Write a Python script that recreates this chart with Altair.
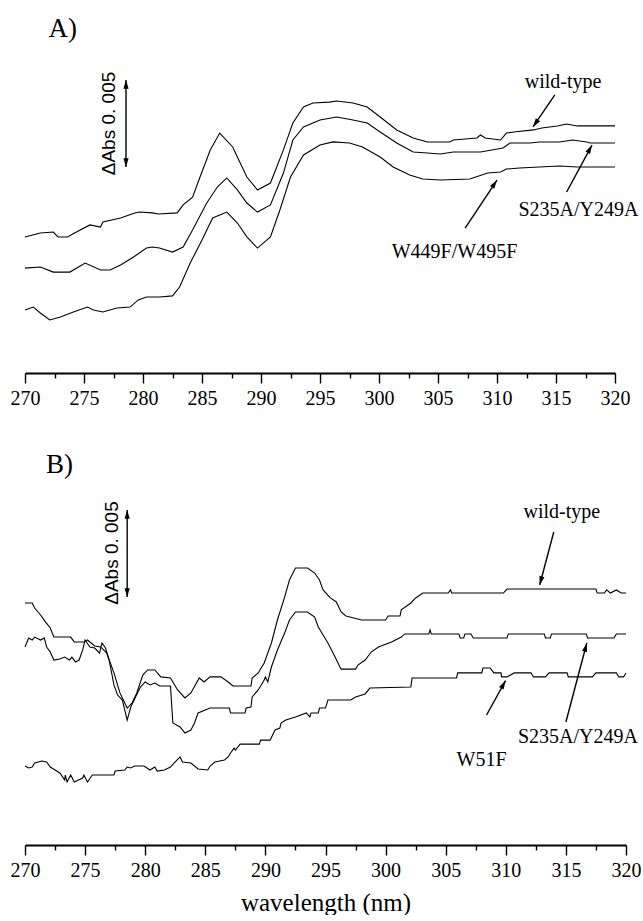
import math
import altair as alt
import pandas as pd

# ---------------- Panel A data (wavelength nm, ΔAbs in mAbs, arbitrary offsets) ----------------
a_wt_nm = [270.0, 271.3, 272.4, 272.8, 273.6, 274.2, 275.5, 276.4, 276.6, 278.1, 279.3, 279.7, 280.8, 281.3,
           282.9, 283.4, 284.2, 284.8, 285.7, 286.5, 287.6, 288.8, 289.7, 290.8, 291.9, 292.7, 293.6, 294.4,
           295.8, 296.4, 297.8, 299.0, 300.1, 301.5, 302.9, 304.1, 306.0, 306.3, 308.3, 308.6, 309.0, 310.3,
           310.8, 311.4, 313.1, 313.8, 315.1, 315.9, 316.8, 320.0]
a_wt_val = [7.82, 8.05, 8.10, 7.82, 7.82, 8.05, 8.51, 8.39, 8.68, 8.91, 9.20, 9.25, 9.20, 9.14,
            9.20, 9.66, 10.11, 11.21, 12.82, 13.79, 12.99, 11.26, 10.52, 10.92, 12.82, 14.37, 15.29, 15.52,
            15.57, 15.63, 15.52, 15.29, 14.71, 13.97, 13.51, 13.28, 13.28, 13.39, 13.51, 13.68, 13.51, 13.39,
            13.79, 13.85, 13.97, 14.08, 14.20, 14.31, 14.20, 14.20]

a_sy_nm = [270.0, 271.3, 272.4, 273.8, 275.1, 276.4, 277.2, 278.1, 279.2, 280.3, 280.8, 281.4, 282.5, 283.4,
           284.2, 285.4, 286.3, 287.1, 288.0, 288.8, 289.7, 290.8, 291.9, 292.7, 293.6, 295.0, 296.4, 297.8,
           299.0, 300.1, 301.5, 302.9, 304.1, 305.2, 306.3, 308.6, 310.5, 311.1, 312.8, 313.6, 315.3, 316.4,
           317.6, 317.9, 320.0]
a_sy_val = [6.03, 6.09, 5.80, 5.80, 6.32, 5.92, 5.92, 6.21, 6.67, 7.18, 7.24, 7.18, 6.95, 7.24,
            8.22, 9.77, 10.69, 11.21, 10.52, 9.77, 9.25, 9.66, 11.49, 13.39, 14.14, 14.54, 14.71, 14.54,
            14.37, 13.85, 13.22, 12.70, 12.64, 12.59, 12.70, 12.70, 12.93, 13.22, 13.22, 13.28, 13.28, 13.39,
            13.28, 13.22, 13.22]

a_ww_nm = [270.0, 270.7, 271.3, 272.1, 273.0, 274.1, 275.3, 275.8, 276.6, 277.8, 278.9, 279.6, 280.3, 281.4,
           282.5, 283.1, 284.0, 285.0, 285.9, 287.1, 288.0, 288.8, 289.7, 290.8, 291.6, 292.5, 293.6, 295.0,
           296.1, 297.5, 298.6, 300.1, 301.2, 302.6, 303.7, 305.2, 307.7, 309.2, 310.3, 310.8, 311.9, 313.6,
           315.3, 316.8, 320.0]
a_ww_val = [3.62, 3.79, 3.45, 3.05, 3.22, 3.51, 3.79, 3.62, 3.51, 3.74, 3.79, 4.20, 4.37, 4.37,
            4.43, 4.94, 6.32, 7.64, 8.91, 9.25, 8.62, 7.82, 7.18, 7.82, 9.37, 11.26, 12.53, 13.10,
            13.28, 13.22, 12.99, 12.41, 11.84, 11.38, 11.15, 11.09, 11.15, 11.49, 11.55, 11.72, 11.78, 11.84,
            11.90, 11.84, 11.84]

# ---------------- Panel B data ----------------
b_wt_nm = [270.0, 270.6, 270.8, 271.3, 271.7, 272.1, 272.4, 273.8, 274.1, 274.9, 275.2, 275.8, 276.3, 276.8,
           277.4, 277.9, 278.5, 278.9, 279.3, 279.8, 280.2, 280.8, 281.3, 282.1, 282.7, 283.3, 283.8, 284.5,
           284.9, 285.4, 286.3, 286.9, 287.3, 288.8, 288.9, 289.4, 289.9, 290.5, 291.0, 291.6, 292.0, 292.5,
           293.5, 294.1, 294.5, 294.8, 295.4, 295.9, 296.3, 296.7, 298.0, 300.0, 300.2, 301.2, 301.3, 302.1,
           302.5, 303.1, 305.2, 305.4, 305.5, 309.8, 310.1, 317.5, 317.6, 318.2, 318.4, 318.7, 319.2, 319.6,
           320.0]
b_wt_val = [13.91, 13.91, 13.62, 13.22, 12.82, 12.47, 11.95, 11.95, 11.67, 11.67, 11.78, 11.44, 11.38, 11.03,
            9.89, 8.74, 7.87, 8.16, 8.74, 9.77, 10.06, 10.06, 9.66, 9.60, 8.91, 8.45, 8.74, 9.60,
            9.37, 9.66, 9.66, 9.37, 9.14, 9.14, 9.60, 9.89, 10.46, 11.61, 12.93, 14.25, 15.23, 15.92,
            15.92, 15.63, 15.23, 14.66, 14.20, 13.97, 13.39, 13.16, 12.93, 12.93, 13.16, 13.16, 13.51, 13.91,
            14.20, 14.48, 14.48, 14.66, 14.48, 14.48, 14.71, 14.71, 14.48, 14.48, 14.66, 14.48, 14.66, 14.48,
            14.48]

b_sy_nm = [270.0, 270.3, 270.6, 270.8, 271.3, 271.6, 271.8, 272.1, 272.4, 272.9, 273.3, 273.7, 273.9, 274.2,
           274.5, 274.8, 275.0, 275.4, 275.8, 276.2, 276.4, 276.7, 277.0, 277.4, 277.7, 278.1, 278.5, 278.8,
           279.2, 279.6, 280.0, 280.4, 280.8, 281.2, 282.1, 282.3, 282.9, 283.3, 283.8, 284.1, 284.4, 285.4,
           287.0, 287.1, 288.3, 288.4, 288.8, 288.9, 289.4, 289.9, 290.0, 290.2, 290.5, 291.0, 291.6, 292.0,
           292.5, 293.5, 294.1, 294.4, 294.8, 295.2, 295.8, 296.2, 296.3, 297.5, 297.7, 298.3, 298.8, 299.4,
           300.5, 301.3, 301.6, 303.6, 303.7, 303.8, 306.1, 306.2, 306.5, 306.6, 307.1, 307.3, 310.1, 310.2,
           313.2, 313.3, 313.7, 313.8, 316.7, 316.8, 319.0, 319.2, 320.0]
b_sy_val = [11.38, 11.90, 11.78, 11.95, 11.78, 11.90, 11.38, 11.09, 10.63, 10.69, 10.80, 10.63, 10.80, 10.52,
            10.63, 11.21, 11.78, 11.38, 11.32, 11.03, 11.61, 11.32, 10.63, 9.20, 8.62, 8.33, 7.18, 7.93,
            8.51, 9.08, 9.37, 9.20, 9.31, 9.14, 9.14, 7.01, 6.78, 6.44, 6.61, 7.01, 7.59, 7.87,
            7.87, 7.59, 7.59, 7.87, 7.93, 8.51, 8.91, 9.48, 9.66, 9.37, 10.23, 11.21, 12.18, 12.93,
            13.39, 13.39, 13.10, 12.53, 12.07, 11.61, 10.80, 10.23, 10.11, 10.11, 10.34, 10.63, 11.09, 11.38,
            11.67, 11.95, 12.13, 12.13, 12.36, 12.13, 12.13, 11.90, 11.90, 12.13, 12.13, 11.90, 11.90, 12.13,
            12.13, 11.90, 11.90, 12.13, 12.13, 11.90, 11.90, 12.13, 12.13]

b_wf_nm = [270.0, 270.3, 270.6, 270.8, 271.4, 271.8, 272.1, 272.5, 272.9, 273.3, 273.35, 273.5, 273.8, 274.1,
           274.8, 274.9, 275.2, 275.6, 277.4, 277.5, 278.3, 278.5, 278.8, 279.1, 279.9, 280.4, 280.8, 281.0,
           281.6, 282.1, 282.4, 282.9, 283.1, 283.8, 284.4, 285.2, 285.4, 285.8, 286.6, 286.9, 287.1, 287.4,
           287.5, 287.9, 289.5, 289.6, 290.4, 290.6, 290.8, 291.2, 291.3, 291.7, 292.5, 293.4, 293.7, 293.8,
           294.4, 294.5, 295.0, 295.2, 297.1, 297.5, 298.3, 298.7, 302.1, 302.2, 305.9, 306.0, 308.0, 308.1,
           308.7, 309.0, 309.6, 309.65, 310.1, 310.7, 312.1, 312.3, 313.3, 313.6, 315.1, 315.2, 317.2, 317.5,
           319.2, 319.4, 319.8, 320.0]
b_wf_val = [4.54, 4.43, 4.48, 4.71, 4.83, 4.77, 4.48, 4.31, 4.14, 3.74, 4.02, 3.62, 4.02, 3.62,
            3.85, 4.02, 3.62, 4.02, 4.02, 4.25, 4.31, 4.48, 4.43, 4.54, 4.54, 4.31, 4.48, 4.25,
            4.31, 4.48, 4.71, 5.06, 4.77, 4.71, 4.37, 4.31, 4.54, 4.77, 4.89, 5.06, 5.29, 5.57,
            5.46, 5.80, 5.80, 6.03, 6.03, 6.32, 6.61, 6.72, 7.01, 7.18, 7.36, 7.59, 7.36, 7.59,
            7.59, 7.87, 7.87, 8.33, 8.33, 8.51, 8.68, 9.02, 9.08, 9.60, 9.60, 9.89, 9.89, 10.17,
            10.17, 9.89, 9.89, 9.66, 9.66, 9.89, 9.89, 9.66, 9.66, 9.89, 9.89, 9.66, 9.66, 9.89,
            9.89, 9.66, 9.66, 9.89]

# ---------------- annotations ----------------
a_lbl_text = ["wild-type", "S235A/Y249A", "W449F/W495F"]
a_lbl_x = [315.6, 316.9, 306.4]
a_lbl_y = [16.72, 9.37, 6.95]
a_arr_x1 = [314.9, 315.9, 307.3]
a_arr_y1 = [15.98, 10.40, 8.33]
a_arr_x2 = [313.05, 318.05, 310.0]
a_arr_y2 = [14.14, 13.10, 11.09]

b_lbl_text = ["wild-type", "S235A/Y249A", "W51F"]
b_lbl_x = [314.66, 316.0, 307.98]
b_lbl_y = [19.14, 6.21, 4.89]
b_arr_x1 = [313.99, 315.0, 308.4]
b_arr_y1 = [17.99, 7.07, 7.47]
b_arr_x2 = [312.82, 316.74, 309.98]
b_arr_y2 = [14.94, 11.61, 9.45]

# scale bar: 0.005 ΔAbs = 5 mAbs
a_bar = {"x": 278.56, "y0": 11.84, "y1": 16.84, "tx": 277.1, "ty": 14.34}
b_bar = {"x": 278.5, "y0": 14.25, "y1": 19.25, "tx": 277.2, "ty": 16.78}
bar_text = "ΔAbs  0. 005"

a_letter = {"text": "A)", "x": 272.0, "y": 19.31}
b_letter = {"text": "B)", "x": 271.75, "y": 21.38}

tick_values = [270, 272.5, 275, 277.5, 280, 282.5, 285, 287.5, 290, 292.5, 295, 297.5,
               300, 302.5, 305, 307.5, 310, 312.5, 315, 317.5, 320]

PX_PER_MABS = 17.4
A_W, A_H = 590, 373
B_W, B_H = 601, 432
SERIF = "Liberation Serif"
SANS = "Liberation Sans"
HEAD = "M0,0L-0.65,2.2L0.65,2.2Z"


def angle_of(x1, y1, x2, y2, W):
    dxp = (x2 - x1) * W / 50.0
    dyp = -(y2 - y1) * PX_PER_MABS
    return math.degrees(math.atan2(dxp, -dyp)) % 360


def make_panel(series, lbl, arr, bar, letter, W, H, title):
    ymax = H / PX_PER_MABS
    xs = alt.Scale(domain=[270, 320], nice=False, zero=False)
    ys = alt.Scale(domain=[0, ymax], nice=False, zero=False)
    axis_kw = dict(
        values=tick_values,
        labelExpr="datum.value % 5 === 0 ? datum.label : ''",
        tickSize={"condition": {"test": "datum.value % 5 === 0", "value": 10}, "value": 5},
        grid=False,
    )
    if title:
        xa = alt.Axis(title=title, **axis_kw)
    else:
        xa = alt.Axis(title=None, **axis_kw)

    def X(f):
        return alt.X(f, type="quantitative", scale=xs, axis=xa)

    def Y(f):
        return alt.Y(f, type="quantitative", scale=ys, axis=None)

    rows = []
    for name, xv, yv in series:
        assert len(xv) == len(yv), name
        for k, (a, b) in enumerate(zip(xv, yv)):
            rows.append({"series": name, "nm": a, "v": b, "i": k})
    df = pd.DataFrame(rows)
    lines = alt.Chart(df).mark_line(color="black", strokeWidth=1.1).encode(
        x=X("nm"), y=Y("v"), detail="series:N", order="i:Q")

    tl, tx, ty = lbl
    ldf = pd.DataFrame({"t": tl, "x": tx, "y": ty})
    labels = alt.Chart(ldf).mark_text(font=SERIF, fontSize=20, align="center",
                                      baseline="middle", color="black").encode(
        x=X("x"), y=Y("y"), text="t:N")

    x1, y1, x2, y2 = arr
    adf = pd.DataFrame({"x1": x1, "y1": y1, "x2": x2, "y2": y2})
    adf["ang"] = [angle_of(a, b, c, d, W) for a, b, c, d in zip(x1, y1, x2, y2)]
    shafts = alt.Chart(adf).mark_rule(color="black", strokeWidth=1.4).encode(
        x=X("x1"), y=Y("y1"), x2="x2", y2="y2")
    heads = alt.Chart(adf).mark_point(shape=HEAD, filled=True, size=64, color="black",
                                      opacity=1, strokeWidth=0).encode(
        x=X("x2"), y=Y("y2"), angle=alt.Angle("ang:Q", scale=None))

    bdf = pd.DataFrame({"x": [bar["x"]], "y0": [bar["y0"]], "y1": [bar["y1"]]})
    bar_rule = alt.Chart(bdf).mark_rule(color="black", strokeWidth=1.4).encode(
        x=X("x"), y=Y("y0"), y2="y1")
    bhdf = pd.DataFrame({"x": [bar["x"], bar["x"]], "y": [bar["y1"], bar["y0"]], "ang": [0, 180]})
    bar_heads = alt.Chart(bhdf).mark_point(shape=HEAD, filled=True, size=64, color="black",
                                           opacity=1, strokeWidth=0).encode(
        x=X("x"), y=Y("y"), angle=alt.Angle("ang:Q", scale=None))
    btdf = pd.DataFrame({"t": [bar_text], "x": [bar["tx"]], "y": [bar["ty"]]})
    bar_txt = alt.Chart(btdf).mark_text(font=SANS, fontSize=19, angle=270, align="center",
                                        baseline="middle", color="black").encode(
        x=X("x"), y=Y("y"), text="t:N")

    letdf = pd.DataFrame({"t": [letter["text"]], "x": [letter["x"]], "y": [letter["y"]]})
    let_txt = alt.Chart(letdf).mark_text(font=SERIF, fontSize=27, align="left",
                                         baseline="alphabetic", color="black").encode(
        x=X("x"), y=Y("y"), text="t:N")

    return alt.layer(lines, shafts, heads, labels, bar_rule, bar_heads, bar_txt, let_txt).properties(
        width=W, height=H)


panel_a = make_panel(
    [("wild-type", a_wt_nm, a_wt_val), ("S235A/Y249A", a_sy_nm, a_sy_val), ("W449F/W495F", a_ww_nm, a_ww_val)],
    (a_lbl_text, a_lbl_x, a_lbl_y),
    (a_arr_x1, a_arr_y1, a_arr_x2, a_arr_y2),
    a_bar, a_letter, A_W, A_H, None)

panel_b = make_panel(
    [("wild-type", b_wt_nm, b_wt_val), ("S235A/Y249A", b_sy_nm, b_sy_val), ("W51F", b_wf_nm, b_wf_val)],
    (b_lbl_text, b_lbl_x, b_lbl_y),
    (b_arr_x1, b_arr_y1, b_arr_x2, b_arr_y2),
    b_bar, b_letter, B_W, B_H, "wavelength (nm)")

chart = alt.vconcat(panel_a, panel_b, spacing=40, bounds="flush").properties(
    padding={"left": 10, "top": 0, "right": 0, "bottom": 0},
    autosize=alt.AutoSizeParams(type="pad"),
).configure(background="white").configure_view(stroke=None).configure_axis(
    domainColor="black", domainWidth=1.8, tickColor="black", tickWidth=1.4,
    labelFont=SERIF, labelFontSize=20, labelColor="black", labelPadding=15,
    labelBaseline="middle", labelFlush=False, labelOverlap=False,
    titleFont=SERIF, titleFontSize=25, titleFontWeight="normal", titleColor="black",
    titlePadding=10,
)

chart.save("out.html", embed_options={"renderer": "svg", "actions": False})
